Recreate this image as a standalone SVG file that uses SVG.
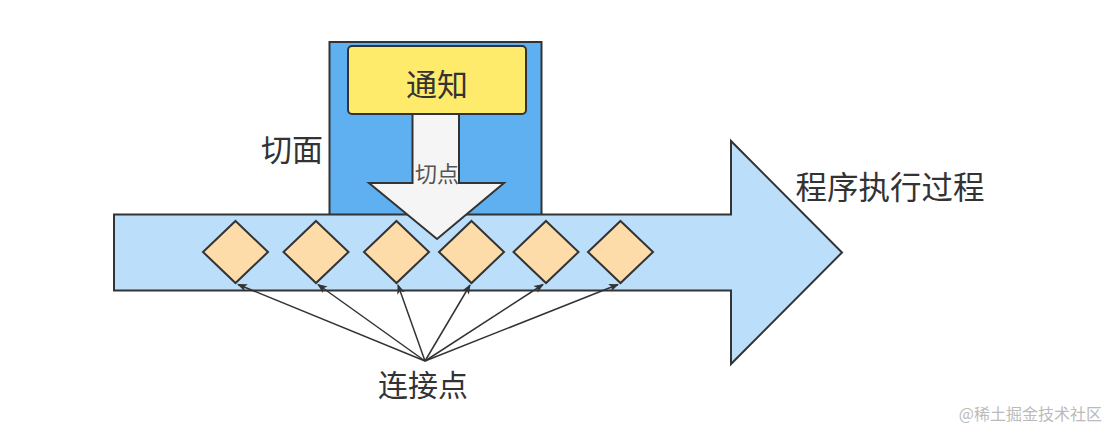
<svg xmlns="http://www.w3.org/2000/svg" width="1114" height="431" viewBox="0 0 1114 431">
<style>
.t{font-family:"Noto Sans CJK SC","Liberation Sans",sans-serif;fill:#333;text-anchor:middle;dominant-baseline:central}
.dia{fill:#fedcaa;stroke:#333;stroke-width:2}
.conn{stroke:#333;stroke-width:1.5;fill:none;marker-end:url(#ah)}
</style>
<defs>
<marker id="ah" viewBox="0 0 10 10" refX="9" refY="5" markerWidth="10" markerHeight="10" markerUnits="userSpaceOnUse" orient="auto">
<path d="M0,1 L10,5 L0,9 L2.5,5 Z" fill="#333"/>
</marker>
</defs>
<rect width="1114" height="431" fill="#fff"/>
<g id="aspect">
<rect x="329.5" y="42" width="212" height="175" fill="#5fb0f0" stroke="#333" stroke-width="2"/>
<text class="t" x="292" y="147" font-size="31">切面</text>
</g>
<g id="process">
<path d="M114,214.5 H731 V141 L842,252.5 L731,364 V290.5 H114 Z" fill="#bbdefb" stroke="#333" stroke-width="2"/>
<text class="t" x="890" y="185" font-size="31.5">程序执行过程</text>
</g>
<g id="joinpoints">
<path class="dia" d="M235.5,221 L268,252 L235.5,283 L203,252 Z"/>
<path class="dia" d="M316,221 L348.5,252 L316,283 L283.5,252 Z"/>
<path class="dia" d="M396.5,221 L429,252 L396.5,283 L364,252 Z"/>
<path class="dia" d="M471.5,221 L504,252 L471.5,283 L439,252 Z"/>
<path class="dia" d="M546,221 L578.5,252 L546,283 L513.5,252 Z"/>
<path class="dia" d="M620.5,221 L653,252 L620.5,283 L588,252 Z"/>
</g>
<g id="pointcut">
<path d="M412.5,112 H459 V183 H504 L437,239 L369,183 H412.5 Z" fill="#f5f5f5" stroke="#333" stroke-width="2"/>
<text class="t" x="437" y="172" font-size="22" style="fill:#555">切点</text>
</g>
<g id="advice">
<rect x="348" y="46" width="178" height="68" rx="4" fill="#ffeb6b" stroke="#333" stroke-width="2"/>
<text class="t" x="437" y="82" font-size="31">通知</text>
</g>
<g id="connectors">
<line class="conn" x1="425" y1="361" x2="238" y2="284.5"/>
<line class="conn" x1="425" y1="361" x2="318" y2="284.5"/>
<line class="conn" x1="425" y1="361" x2="398" y2="285"/>
<line class="conn" x1="425" y1="361" x2="470" y2="285"/>
<line class="conn" x1="425" y1="361" x2="543" y2="284.5"/>
<line class="conn" x1="425" y1="361" x2="618" y2="284.5"/>
</g>
<g id="label-joinpoint">
<text class="t" x="423" y="383" font-size="30">连接点</text>
</g>
<text x="1102" y="413" font-family="Noto Sans CJK SC, sans-serif" font-size="16" fill="#bbb" text-anchor="end" dominant-baseline="central">@稀土掘金技术社区</text>
</svg>
